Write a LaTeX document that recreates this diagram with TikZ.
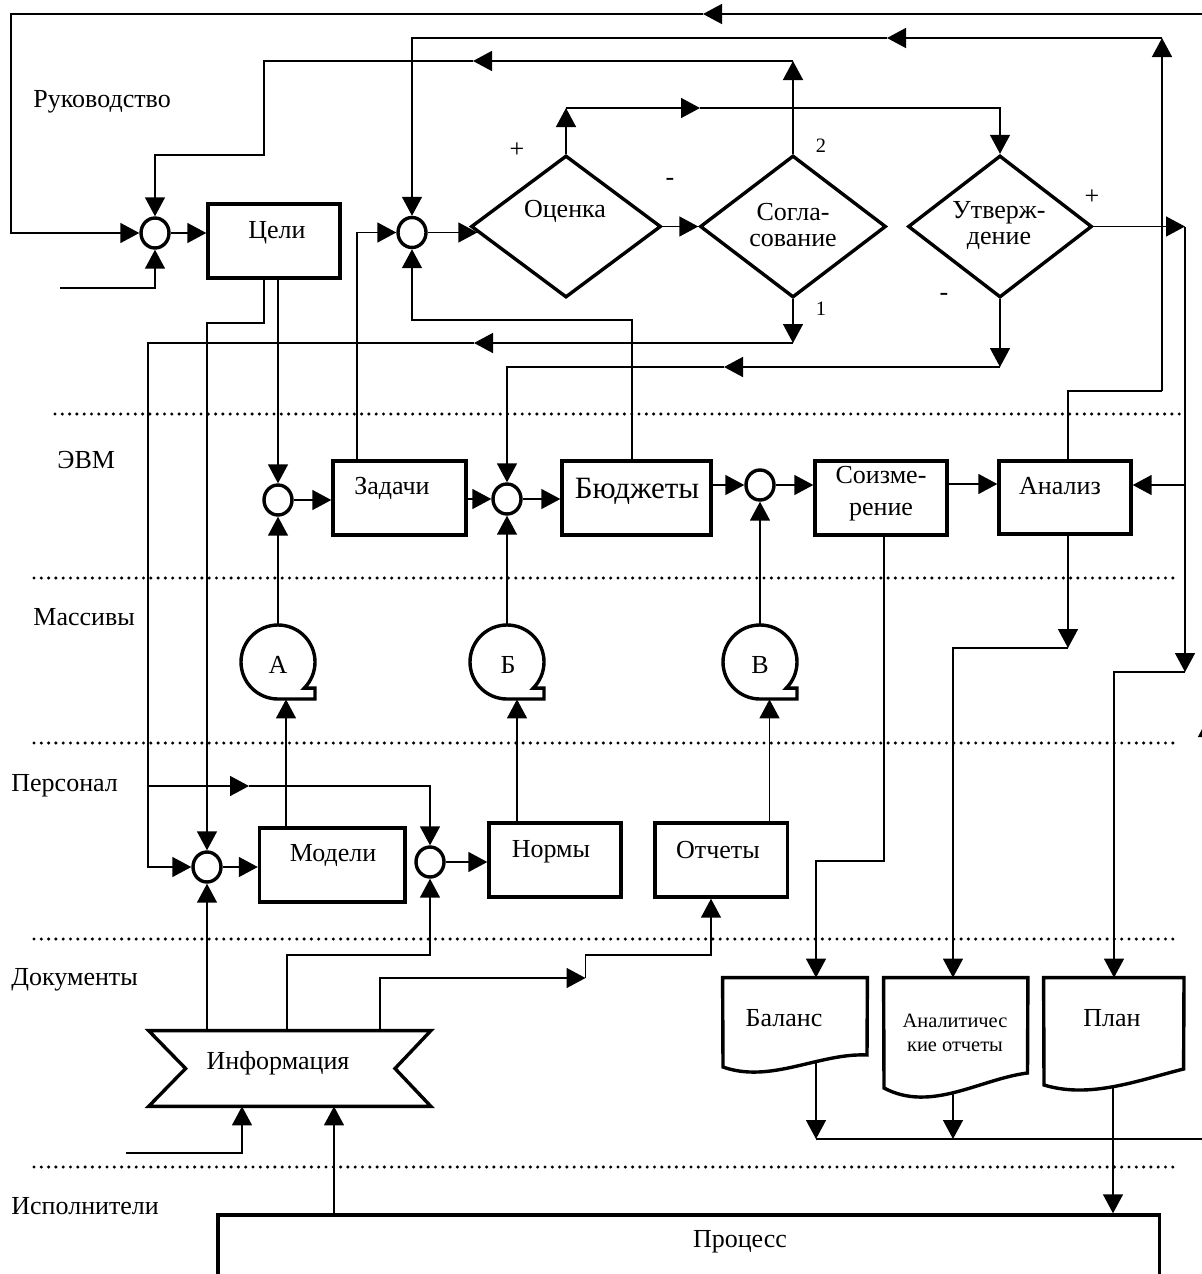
\documentclass[tikz,border=0pt]{standalone}
\usepackage{fontspec}
\setmainfont{Liberation Serif}
\usetikzlibrary{arrows.meta,shapes.geometric}
\newcommand\fmain{\fontsize{13pt}{13.3pt}\selectfont}
\newcommand\fbig{\fontsize{15.5pt}{17pt}\selectfont}
\newcommand\fsmall{\fontsize{10.2pt}{12pt}\selectfont}
\begin{document}
\begin{tikzpicture}[x=0.5pt,y=-0.5pt,
  conn/.style={line width=0.75pt},
  ah/.style={-{Triangle[length=9.5pt,width=10pt]}},
  bx/.style={draw,line width=1.7pt,inner sep=0pt,minimum height=37pt},
  sumc/.style={draw,ellipse,line width=1.7pt,inner sep=0pt,minimum width=14pt,minimum height=15pt},
  dmd/.style={draw,diamond,line width=1.7pt,inner sep=0pt,minimum height=71pt},
  shp/.style={line width=1.7pt},
  lbl/.style={inner sep=0pt,text height=0.7em,text depth=0.2em,font=\fmain},
  two/.style={inner sep=0pt,align=center,font=\fmain},
  dots/.style={line width=1.7pt,line cap=round,dash pattern=on 0pt off 3.65pt},
]
\useasboundingbox (0,0) rectangle (1202,1274);
\clip (0,0) rectangle (1202,1274);

% dotted lane separators
\draw[dots] (55,414) -- (1180,414);
\draw[dots] (34,578) -- (1180,578);
\draw[dots] (34,743) -- (1180,743);
\draw[dots] (34,939) -- (1180,939);
\draw[dots] (34,1167) -- (1180,1167);

% lane labels
\node[lbl,anchor=west] (lruk) at (33,102) {Руководство};
\node[lbl,anchor=west] (levm) at (57,463) {ЭВМ};
\node[lbl,anchor=west] (lmas) at (33,620) {Массивы};
\node[lbl,anchor=west] (lper) at (11,786) {Персонал};
\node[lbl,anchor=west] (ldoc) at (11,980) {Документы};
\node[lbl,anchor=west] (lisp) at (11,1209) {Исполнители};

% summing circles
\node[sumc] (c1) at (155,233) {};
\node[sumc] (c2) at (412,232.5) {};
\node[sumc] (c6) at (278,500) {};
\node[sumc] (c5) at (507,499) {};
\node[sumc] (c7) at (760,485) {};
\node[sumc] (c3) at (207,867) {};
\node[sumc] (c4) at (430,862) {};

% boxes
\node[bx,minimum width=66pt] (celi) at (274,241) {};
\node[bx,minimum width=66.5pt] (zadachi) at (399.5,498) {};
\node[bx,minimum width=74.5pt] (budget) at (636.5,498) {};
\node[bx,minimum width=66pt] (soizm) at (881,498) {};
\node[bx,minimum width=66pt,minimum height=36.5pt] (analiz) at (1065,497.5) {};
\node[bx,minimum width=72.75pt] (modeli) at (332.25,865) {};
\node[bx,minimum width=66pt] (normy) at (555,860) {};
\node[bx,minimum width=66.25pt] (otchety) at (721.25,860) {};
\node[bx,minimum width=470.75pt,minimum height=42.5pt] (process) at (688.75,1257.5) {};

% diamonds
\node[dmd,minimum width=95pt] (ocenka) at (566,226.5) {};
\node[dmd,minimum width=93pt] (soglas) at (793,226.5) {};
\node[dmd,minimum width=92pt] (utv) at (1000,226.5) {};

% tapes
\node[circle,inner sep=0pt,minimum size=37pt] (tA) at (278,662) {};
\node[circle,inner sep=0pt,minimum size=37pt] (tB) at (507,662) {};
\node[circle,inner sep=0pt,minimum size=37pt] (tV) at (760,662) {};
\foreach \t in {tA,tB,tV}{
  \draw[shp] ([yshift=-18.5pt]\t.center) arc[start angle=90,end angle=405,radius=37]
    -- ++(10.8,0) -- ++(0,10.8) -- cycle;
}

% information and documents (invisible frames)
\node[inner sep=0pt,minimum width=140.75pt,minimum height=37.5pt] (info) at (289.75,1068.5) {};
\node[inner sep=0pt,minimum width=72pt,minimum height=44.5pt] (balans) at (795,1022.5) {};
\node[inner sep=0pt,minimum width=71.75pt,minimum height=55pt] (ao) at (955.75,1033) {};
\node[inner sep=0pt,minimum width=69.8pt,minimum height=53.5pt] (plan) at (1113.8,1031.5) {};

% ---------- connectors ----------
% outer loop
\draw[conn,ah] (balans.center -| 816,0) -- (816,1139);
\draw[conn,ah] (ao.center -| 953,0) -- (953,1139);
\draw[conn,ah] (816,1139) -- (1208,1139) -- (1208,718);
\draw[conn,ah] (1208,718) -- (1208,14) -- (703,14);
\draw[conn,ah] (703,14) -- (11,14) -- (11,0 |- c1.west) -- (c1.west);
% c1 inputs
\draw[conn,ah] (60,288) -- (155,288) -- (c1.south);
\draw[conn,ah] (soglas.north) -- (793,61);
\draw[conn,ah] (793,61) -- (473,61);
\draw[conn,ah] (473,61) -- (264,61) -- (264,155) -- (155,155) -- (c1.north);
\draw[conn,ah] (c1.east) -- (c1.east -| celi.west);
% from Цели
\draw[conn,ah] (celi.south -| 264,0) -- (264,323) -- (207,323) -- (c3.north);
\draw[conn,ah] (celi.south -| c6.north) -- (c6.north);
% into c2
\draw[conn,ah] (zadachi.north -| 357,0) -- (357,0 |- c2.west) -- (c2.west);
\draw[conn,ah] (budget.north -| 632,0) -- (632,320) -- (412,320) -- (c2.south);
\draw[conn] (analiz.north -| 1068,0) -- (1068,391) -- (1162,391);
\draw[conn,ah] (1162,391) -- (1162,38);
\draw[conn,ah] (1162,38) -- (887,38);
\draw[conn,ah] (887,38) -- (412,38) -- (c2.north);
% decision chain
\draw[conn,ah] (c2.east) -- ([shift={(8,6)}]ocenka.west);
\draw[conn,ah] (ocenka.east) -- (soglas.west);
\draw[conn,ah] (ocenka.north) -- (566,108);
\draw[conn,ah] (566,108) -- (700,108);
\draw[conn,ah] (700,108) -- (1000,108) -- (utv.north);
% Согласование 1
\draw[conn,ah] (soglas.south) -- (793,343);
\draw[conn,ah] (793,343) -- (474,343);
\draw[conn,ah] (474,343) -- (148,343) -- (148,0 |- c3.west) -- (c3.west);
\draw[conn,ah] (148,786) -- (249,786);
\draw[conn,ah] (249,786) -- (430,786) -- (c4.north);
% Утверждение -
\draw[conn,ah] (utv.south) -- (1000,367);
\draw[conn,ah] (1000,367) -- (724,367);
\draw[conn,ah] (724,367) -- (507,367) -- (c5.north);
% Утверждение +
\draw[conn,ah] (utv.east) -- (1185,226.5);
\draw[conn,ah] (1185,226.5) -- (1185,672);
\draw[conn,ah] (1185,672) -- (1114,672) -- (plan.north -| 1114,0);
\draw[conn,ah] (1185,485) -- (analiz.east |- 0,485);
% ЭВМ row
\draw[conn,ah] (c6.east) -- (c6.east -| zadachi.west);
\draw[conn,ah] (zadachi.east |- c5.west) -- (c5.west);
\draw[conn,ah] (c5.east) -- (c5.east -| budget.west);
\draw[conn,ah] (budget.east |- c7.west) -- (c7.west);
\draw[conn,ah] (c7.east) -- (c7.east -| soizm.west);
\draw[conn,ah] (soizm.east |- 0,484) -- (analiz.west |- 0,484);
% tapes
\draw[conn,ah] (tA.north) -- (c6.south);
\draw[conn,ah] (tB.north) -- (c5.south);
\draw[conn,ah] (tV.north) -- (c7.south);
\draw[conn,ah] (modeli.north -| 286,0) -- (286,0 |- tA.south);
\draw[conn,ah] (normy.north -| 517,0) -- (517,0 |- tB.south);
\draw[conn,ah] (otchety.north -| 769.5,0) -- (769.5,0 |- tV.south);
% Персонал row
\draw[conn,ah] (c3.east) -- (c3.east -| modeli.west);
\draw[conn,ah] (c4.east) -- (c4.east -| normy.west);
% from Информация
\draw[conn,ah] (info.north -| c3.south) -- (c3.south);
\draw[conn,ah] (info.north -| 287,0) -- (287,955) -- (430,955) -- (c4.south);
\draw[conn,ah] (info.north -| 380,0) -- (380,978) -- (585.5,978);
\draw[conn,ah] (585.5,978) -- (585.5,955) -- (711,955) -- (otchety.south -| 711,0);
\draw[conn,ah] (126,1153) -- (242,1153) -- (242,0 |- info.south);
\draw[conn,ah] (process.north -| 334,0) -- (334,0 |- info.south);
% to documents
\draw[conn,ah] (soizm.south -| 884,0) -- (884,861) -- (816,861) -- (balans.north -| 816,0);
\draw[conn,ah] (analiz.south -| 1068,0) -- (1068,648);
\draw[conn,ah] (1068,648) -- (953,648) -- (ao.north -| 953,0);
\draw[conn,ah] (plan.center -| 1113,0) -- (process.north -| 1113,0);

% shapes of Информация and documents
\draw[shp,fill=white] (info.north west) -- (info.north east) -- (395,1068.5)
  -- (info.south east) -- (info.south west) -- (185.6,1068.5) -- cycle;
\draw[shp,fill=white] (balans.north west) -- (balans.north east) -- (867,1055)
  .. controls (819.5,1052.7) and (770.5,1084) .. (723,1067) -- cycle;
\draw[shp,fill=white] (ao.north west) -- (ao.north east) -- (1027.5,1073)
  .. controls (980,1079) and (931,1113) .. (884,1088) -- cycle;
\draw[shp,fill=white] (plan.north west) -- (plan.north east) -- (1183.6,1069)
  .. controls (1137.5,1080.5) and (1090,1099) .. (1044,1085) -- cycle;

% ---------- texts ----------
\node[lbl] (tceli) at (277,233) {Цели};
\node[lbl] (tzad) at (392,489) {Задачи};
\node[lbl,font=\fbig] (tbud) at (637,493) {Бюджеты};
\node[two,font={\fontsize{13pt}{16pt}\selectfont}] (tsoi) at (881,494) {Соизме-\\рение};
\node[lbl] (tan) at (1060,489) {Анализ};
\node[lbl] (tmod) at (333,856) {Модели};
\node[lbl] (tnor) at (551,852) {Нормы};
\node[lbl] (totch) at (718,853) {Отчеты};
\node[lbl] (toc) at (565,212) {Оценка};
\node[two] (tsog) at (793,225) {Согла-\\сование};
\node[two] (tutv) at (999,225.5) {Утверж-\\дение};
\node[lbl] (tbal) at (784,1021) {Баланс};
\node[two,font=\fsmall] (tao) at (955,1033) {Аналитичес\\кие отчеты};
\node[lbl] (tplan) at (1112,1021) {План};
\node[lbl] (tinfo) at (278,1064) {Информация};
\node[lbl] (tproc) at (740,1242) {Процесс};
\node[lbl] (ta) at (278,668) {А};
\node[lbl] (tb) at (508,668) {Б};
\node[lbl] (tv) at (760,668) {В};
% signs
\node[lbl] (p1) at (517,152) {+};
\node[lbl] (m1) at (670,180) {-};
\node[lbl,font=\fsmall] (n2) at (821,147) {2};
\node[lbl,font=\fsmall] (n1) at (821,310) {1};
\node[lbl] (p2) at (1092,199) {+};
\node[lbl] (m2) at (944,295) {-};
\end{tikzpicture}
\end{document}
